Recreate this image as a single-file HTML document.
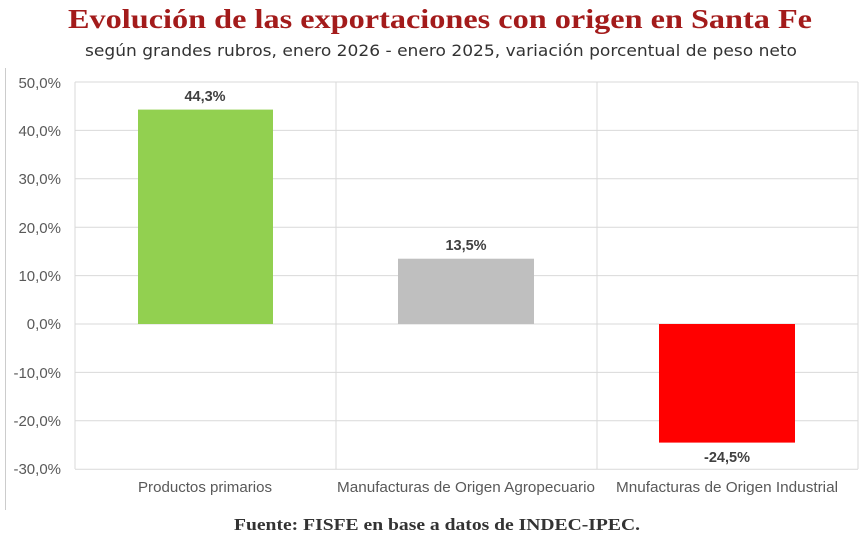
<!DOCTYPE html><html><head><meta charset="utf-8"><style>
body{margin:0;background:#fff;width:866px;height:538px;overflow:hidden}
</style></head><body>
<svg width="866" height="538" xmlns="http://www.w3.org/2000/svg">
<text x="68" y="28" textLength="744" lengthAdjust="spacingAndGlyphs" font-family="Liberation Serif,serif" font-weight="bold" font-size="27" fill="#a31b1b">Evolución de las exportaciones con origen en Santa Fe</text>
<text x="85" y="56" textLength="712" lengthAdjust="spacingAndGlyphs" font-family="DejaVu Sans,sans-serif" font-size="16" fill="#333">según grandes rubros, enero 2026 - enero  2025, variación porcentual de peso neto</text>
<line x1="5.5" y1="68" x2="5.5" y2="510" stroke="#ccc"/>
<g stroke="#d9d9d9" stroke-width="1">
<line x1="75" y1="82" x2="858" y2="82"/><line x1="75" y1="130.4" x2="858" y2="130.4"/><line x1="75" y1="178.8" x2="858" y2="178.8"/><line x1="75" y1="227.2" x2="858" y2="227.2"/><line x1="75" y1="275.6" x2="858" y2="275.6"/><line x1="75" y1="324" x2="858" y2="324"/><line x1="75" y1="372.4" x2="858" y2="372.4"/><line x1="75" y1="420.8" x2="858" y2="420.8"/><line x1="75" y1="469.2" x2="858" y2="469.2"/>
<line x1="75" y1="82" x2="75" y2="469"/><line x1="336" y1="82" x2="336" y2="469"/><line x1="597" y1="82" x2="597" y2="469"/><line x1="858" y1="82" x2="858" y2="469"/>
</g>
<g font-family="Liberation Sans,sans-serif" font-size="15" fill="#595959" text-anchor="end">
<text x="61" y="88">50,0%</text><text x="61" y="136">40,0%</text><text x="61" y="184">30,0%</text><text x="61" y="233">20,0%</text><text x="61" y="281">10,0%</text><text x="61" y="329">0,0%</text><text x="61" y="378">-10,0%</text><text x="61" y="426">-20,0%</text><text x="61" y="474">-30,0%</text>
</g>
<rect x="138" y="109.6" width="135" height="214.4" fill="#92d050"/>
<rect x="398" y="258.7" width="136" height="65.3" fill="#bfbfbf"/>
<rect x="659" y="324" width="136" height="118.6" fill="#ff0000"/>
<g font-family="Liberation Sans,sans-serif" font-size="14.5" font-weight="bold" fill="#404040" text-anchor="middle">
<text x="205" y="101">44,3%</text><text x="466" y="250">13,5%</text><text x="727" y="462">-24,5%</text>
</g>
<g font-family="Liberation Sans,sans-serif" font-size="14.5" fill="#595959" text-anchor="middle">
<text x="205" y="492" textLength="134" lengthAdjust="spacingAndGlyphs">Productos primarios</text><text x="466" y="492" textLength="258" lengthAdjust="spacingAndGlyphs">Manufacturas de Origen Agropecuario</text><text x="727" y="492" textLength="222" lengthAdjust="spacingAndGlyphs">Mnufacturas de Origen Industrial</text>
</g>
<text x="234" y="530" textLength="406" lengthAdjust="spacingAndGlyphs" font-family="Liberation Serif,serif" font-weight="bold" font-size="17" fill="#333">Fuente: FISFE en base a datos de INDEC-IPEC.</text>
</svg>
</body></html>
